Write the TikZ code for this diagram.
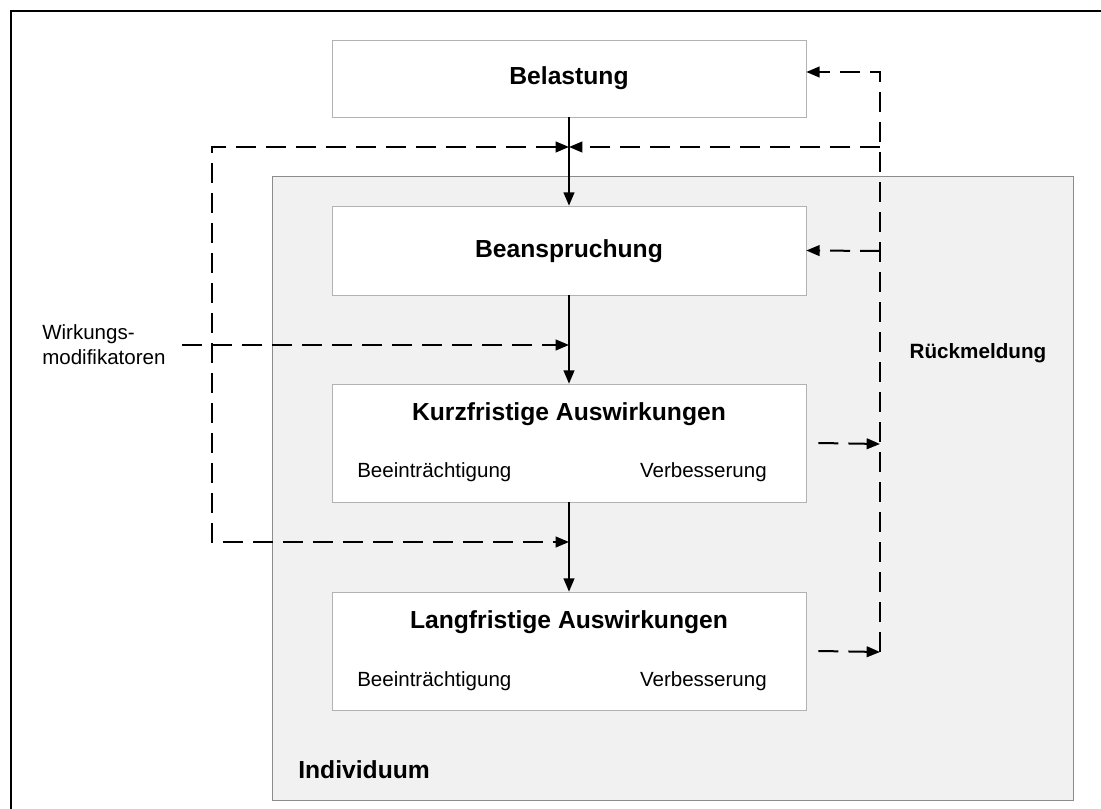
\documentclass[tikz,border=0pt]{standalone}
\usepackage{fontspec}
\setmainfont{Liberation Sans}
\usetikzlibrary{positioning}
\usetikzlibrary{arrows.meta}
\usetikzlibrary{calc}
\definecolor{stageline}{RGB}{178,178,178}
\definecolor{regionline}{RGB}{140,140,140}
\definecolor{regionfill}{RGB}{241,241,241}
\tikzstyle{stage}=[rectangle,draw=stageline,fill=white,minimum width=355.5pt,inner sep=0pt]
\tikzstyle{region}=[rectangle,draw=regionline,fill=regionfill,anchor=north west,minimum width=600.75pt,minimum height=468pt,inner sep=0pt]
\tikzstyle{flow} = [draw,line width=1.5pt,-{Triangle[length=10pt,width=8pt]}]
\tikzstyle{feedback} = [draw,line width=1.5pt,dash pattern=on 15pt off 7.5pt,-{Triangle[length=10pt,width=8pt]}]
\tikzstyle{title} = [font=\bfseries\fontsize{18.5}{22}\selectfont,inner sep=0pt]
\tikzstyle{sublabel} = [font=\fontsize{15.4}{18.75}\selectfont,inner sep=0pt]

\begin{document}
\begin{tikzpicture}[x=0.75pt,y=-0.75pt]
\useasboundingbox (0,0) rectangle (1101,809);

    % frame and individual
    \draw[line width=1.5pt] (10.5,809) -- (10.5,11) -- (1101,11);
    \node[region] (indiv) at (272,176) {};
    \node[title,anchor=west] (indivlabel) at (298,770) {Individuum};

    % stages
    \foreach \pos/\name/\height in {{(569,78.5)/bel/57.75pt}, {(569,250.5)/bea/66.75pt}, {(569,443)/kurz/88.5pt}, {(569,651)/lang/88.5pt}}
        \node[stage, minimum height=\height] (\name) at \pos {};

    \foreach \pos/\name/\label in {{(569,78)/beltitle/Belastung}, {(569,251)/beatitle/Beanspruchung}, {(569,414)/kurztitle/Kurzfristige Auswirkungen}, {(569,622)/langtitle/Langfristige Auswirkungen}}
        \node[title] (\name) at \pos {\label};

    \foreach \y/\name in {472/kurz, 681/lang} {
        \node[sublabel,anchor=west] (\name left) at (357,\y) {Beeinträchtigung};
        \node[sublabel,anchor=east] (\name right) at (767,\y) {Verbesserung};
    }

    \node[sublabel,anchor=west,align=left] (mod) at (42,345) {Wirkungs-\\modifikatoren};
    \node[title,font=\bfseries\fontsize{15.5}{18.75}\selectfont] (rueck) at (978,353) {Rückmeldung};

    % junctions
    \coordinate (lt) at (212,147);
    \coordinate (lb) at (212,542);
    \coordinate (ms) at (182,345);
    \coordinate (jt) at (569,147);
    \coordinate (jm) at (569,345);
    \coordinate (jb) at (569,542);
    \coordinate (rt) at (880,72);
    \coordinate (rh) at (880,147);
    \coordinate (rb) at (880,251);
    \coordinate (rk) at (880,444);
    \coordinate (rl) at (880,652);

    % main flow
    \foreach \source/\dest in {bel/bea, bea/kurz, kurz/lang}
        \path[flow] (\source) -- (\dest);

    % modifiers
    \path[feedback,{Triangle[length=10pt,width=8pt]}-{Triangle[length=10pt,width=8pt]}] (jt) -- (lt) -- (lb) -- (jb);
    \path[feedback] (ms) -- (jm);

    % feedback loop
    \path[feedback] (rl) -- (rt) -- (bel.east |- rt);
    \path[feedback] (rh) -- (jt);
    \path[feedback] (rb) -- (bea.east);
    \path[feedback] ([xshift=9pt]kurz.east) -- (rk);
    \path[feedback] ([xshift=9pt]lang.east) -- (rl);

\end{tikzpicture}
\end{document}
